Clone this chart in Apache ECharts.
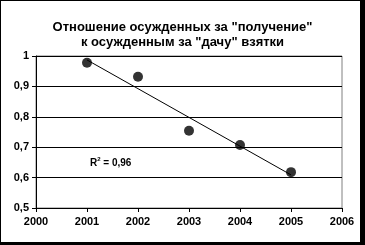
<!DOCTYPE html>
<html><head><meta charset="utf-8">
<script src="https://cdn.jsdelivr.net/npm/echarts@6/dist/echarts.min.js"></script>
<style>
html,body{margin:0;padding:0;background:#000;width:365px;height:245px;overflow:hidden}
#frame{position:absolute;left:1px;top:1px;width:359px;height:241px;background:#fff}
#c{position:absolute;left:-1px;top:-1px;width:365px;height:245px}
</style></head>
<body><div id="frame"><div id="c"></div></div>
<script>
var years = [2001, 2002, 2003, 2004, 2005];
var ratio = [0.978, 0.932, 0.754, 0.707, 0.618];
var trendYears = [2001, 2005];
var trendValues = [0.987, 0.609];
var titleLines = ['Отношение осужденных за "получение"', 'к осужденным за "дачу" взятки'];
var r2Text = '0,96';

var chart = echarts.init(document.getElementById('c'), null, {renderer:'canvas'});
var font = 'Liberation Sans, Arial, sans-serif';
chart.setOption({
  animation:false,
  title:{text:titleLines.join('\n'), left:'center', top:15,
    textStyle:{fontFamily:font, fontSize:13, fontWeight:'bold', color:'#000', lineHeight:15}},
  grid:{left:36, top:56, right:23, bottom:37, show:true, borderColor:'#808080', borderWidth:1},
  xAxis:{type:'value', min:2000, max:2006, interval:1,
    axisLine:{show:true, lineStyle:{color:'#000', width:1}},
    axisTick:{show:true, length:4, inside:false, lineStyle:{color:'#000'}},
    axisLabel:{fontFamily:font, fontSize:11, fontWeight:'bold', color:'#000', margin:8,
      formatter:function(v){return String(v);}},
    splitLine:{show:false}},
  yAxis:{type:'value', min:0.5, max:1, interval:0.1,
    axisLine:{show:true, lineStyle:{color:'#000', width:1}},
    axisTick:{show:true, length:4, lineStyle:{color:'#000'}},
    axisLabel:{fontFamily:font, fontSize:11, fontWeight:'bold', color:'#000', margin:7,
      formatter:function(v){return String(Math.round(v*10)/10).replace('.',',');}},
    splitLine:{show:true, lineStyle:{color:'#000', width:1}}},
  series:[
    {type:'line', data:trendYears.map(function(y,i){return [y, trendValues[i]];}),
      symbol:'none', lineStyle:{color:'#000', width:1}, z:1},
    {type:'scatter', data:years.map(function(y,i){return [y, ratio[i]];}),
      symbol:'circle', symbolSize:10, itemStyle:{color:'#000'}, z:2}
  ],
  graphic:[{type:'text', left:90, top:156, z:10,
    style:{text:'{a|R}{s|2}{a| = '+r2Text+'}', rich:{
      a:{fontFamily:font, fontSize:10, fontWeight:'bold', fill:'#000', verticalAlign:'bottom'},
      s:{fontFamily:font, fontSize:6, fontWeight:'bold', fill:'#000', verticalAlign:'top', padding:[0,0,6,0]}}}}]
});
</script></body></html>
